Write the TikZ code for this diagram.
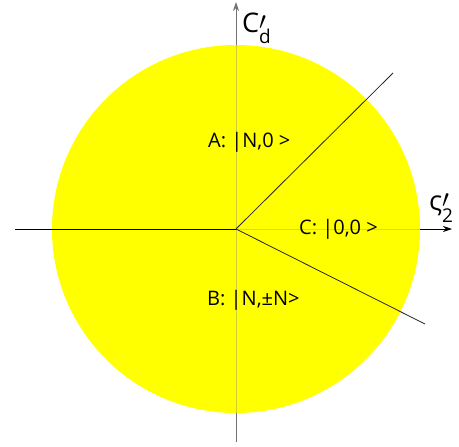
\documentclass[tikz,border=0pt]{standalone}
\usepackage{fontspec}
\setmainfont{Open Sans}
\usetikzlibrary{arrows.meta}
\definecolor{yel}{RGB}{255,255,0}
\begin{document}
\begin{tikzpicture}[x=1pt,y=-1pt,
  lbl/.style={inner sep=0pt,font=\fontsize{20}{22}\selectfont},
  axlbl/.style={inner sep=0pt,font=\fontsize{27}{30}\selectfont},
  ray/.style={line width=0.8pt,black!85}]
\useasboundingbox (0,0) rectangle (459,447);
\coordinate (O) at (236,229);
\coordinate (Ybot) at (236,442);
\coordinate (Ytop) at (236,2);
\coordinate (Xl) at (15,229);
\coordinate (Xr) at (452,229);
\coordinate (Cu) at (236,45);
\coordinate (Cd) at (236,413);
\coordinate (Cr) at (420,229);
\coordinate (P1) at (393,73);
\coordinate (P2) at (425,324);
\draw[gray!90!black,line width=1pt,-{Stealth[length=9pt,width=6pt]}] (Ybot) -- (Ytop);
\draw[black,line width=0.8pt,-{Stealth[length=9pt,width=6pt]}] (O) -- (Xr);
\fill[yel] (O) circle[radius=184];
\draw[yel!62!gray,line width=1pt] (Cu) -- (Cd);
\draw[yel!88!black,line width=0.8pt] (O) -- (Cr);
\draw[black,line width=0.8pt] (Xl) -- (O);
\draw[ray] (O) -- (P1);
\draw[ray] (O) -- (P2);
\node[lbl,anchor=west] (A) at (208,142) {A: |N,0 >};
\node[lbl,anchor=west] (C) at (299,229) {C: |0,0 >};
\node[lbl,anchor=west] (B) at (207,300) {B: |N,±N>};
\node[axlbl,anchor=base west] (ld) at (242,32) {C\makebox[0pt][l]{\raisebox{0.1em}{$\prime$}}\raisebox{-0.42em}{\fontsize{19}{19}\selectfont d}};
\node[axlbl,anchor=base west] (l2) at (429,210) {ς\makebox[0pt][l]{\raisebox{0.1em}{$\prime$}}\raisebox{-0.45em}{\fontsize{19}{19}\selectfont 2}};
\end{tikzpicture}
\end{document}
